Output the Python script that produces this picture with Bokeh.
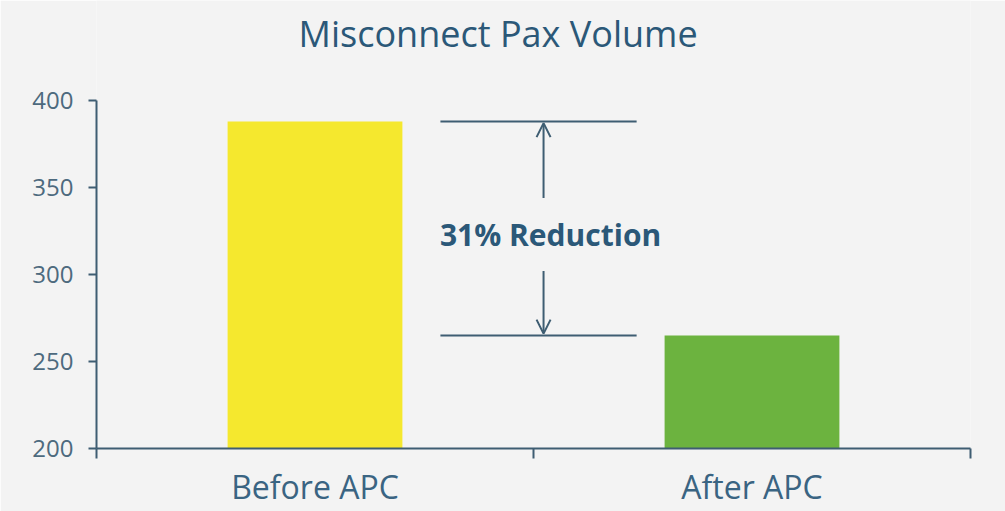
from bokeh.plotting import figure
from bokeh.models import Range1d, FixedTicker, Arrow, OpenHead, Label
from bokeh.embed import file_html
from bokeh.resources import INLINE

title_text = "Misconnect Pax Volume"
categories = ["Before APC", "After APC"]
values = [388, 265]
bar_colors = ["#f5e82e", "#6cb33f"]
y_ticks = [200, 250, 300, 350, 400]
reduction_text = "31% Reduction"

BG = "#f3f3f3"
AXIS = "#3e5d72"
TEXT = "#2b5878"
FONT = "Open Sans"

Y0, Y1 = 200, 400
PX_PER_UNIT = 348 / (Y1 - Y0)
Y_TOP = Y1 + 100 / PX_PER_UNIT  # room above the axis for the title

p = figure(width=1005, height=511, output_backend="svg", toolbar_location=None,
           x_range=Range1d(0, len(categories)), y_range=Range1d(Y0, Y_TOP),
           min_border_left=96, min_border_right=35, min_border_top=0, min_border_bottom=63,
           background_fill_color=BG, border_fill_color=BG, outline_line_color=None)

xs = [i + 0.5 for i in range(len(categories))]
p.vbar(x=xs, top=values, bottom=Y0, width=0.4, fill_color=bar_colors, line_color=None)

# x axis
xa = p.xaxis[0]
xa.ticker = FixedTicker(ticks=xs, minor_ticks=list(range(len(categories) + 1)))
xa.major_label_overrides = {x: c for x, c in zip(xs, categories)}
xa.major_tick_out = 0
xa.major_tick_in = 0
xa.minor_tick_out = 10
xa.minor_tick_in = 0
xa.minor_tick_line_color = AXIS
xa.minor_tick_line_width = 2
xa.axis_line_color = AXIS
xa.axis_line_width = 2
xa.major_label_text_font = FONT
xa.major_label_text_font_size = "32px"
xa.major_label_text_color = "#3a6482"
xa.major_label_standoff = 6

# y axis
ya = p.yaxis[0]
ya.ticker = FixedTicker(ticks=y_ticks)
ya.bounds = (Y0, Y1)
ya.major_tick_out = 8
ya.major_tick_in = 0
ya.minor_tick_line_color = None
ya.major_tick_line_color = AXIS
ya.major_tick_line_width = 2
ya.axis_line_color = AXIS
ya.axis_line_width = 2
ya.major_label_text_font = FONT
ya.major_label_text_font_size = "24px"
ya.major_label_text_color = "#4d6a7e"
ya.major_label_standoff = 15

p.xgrid.grid_line_color = None
p.ygrid.grid_line_color = None

# title
p.add_layout(Label(x=0.919, y=Y1 + 67 / PX_PER_UNIT, text=title_text, text_align="center",
                   text_baseline="middle", text_font=FONT, text_font_size="36px",
                   text_color=TEXT))

# annotation
x0, x1, xm = 0.787, 1.236, 1.023
p.segment(x0=[x0, x0], x1=[x1, x1], y0=values, y1=values, line_color=AXIS, line_width=2)
p.add_layout(Arrow(end=OpenHead(size=14, line_color=AXIS, line_width=2),
                   x_start=xm, y_start=344, x_end=xm, y_end=values[0] - 1,
                   line_color=AXIS, line_width=2))
p.add_layout(Arrow(end=OpenHead(size=14, line_color=AXIS, line_width=2),
                   x_start=xm, y_start=302, x_end=xm, y_end=values[1] + 1,
                   line_color=AXIS, line_width=2))
p.add_layout(Label(x=1.039, y=323, text=reduction_text, text_align="center",
                   text_baseline="middle", text_font=FONT, text_font_style="bold",
                   text_font_size="30px", text_color=TEXT))

open("out.html", "w").write(file_html(p, INLINE))
